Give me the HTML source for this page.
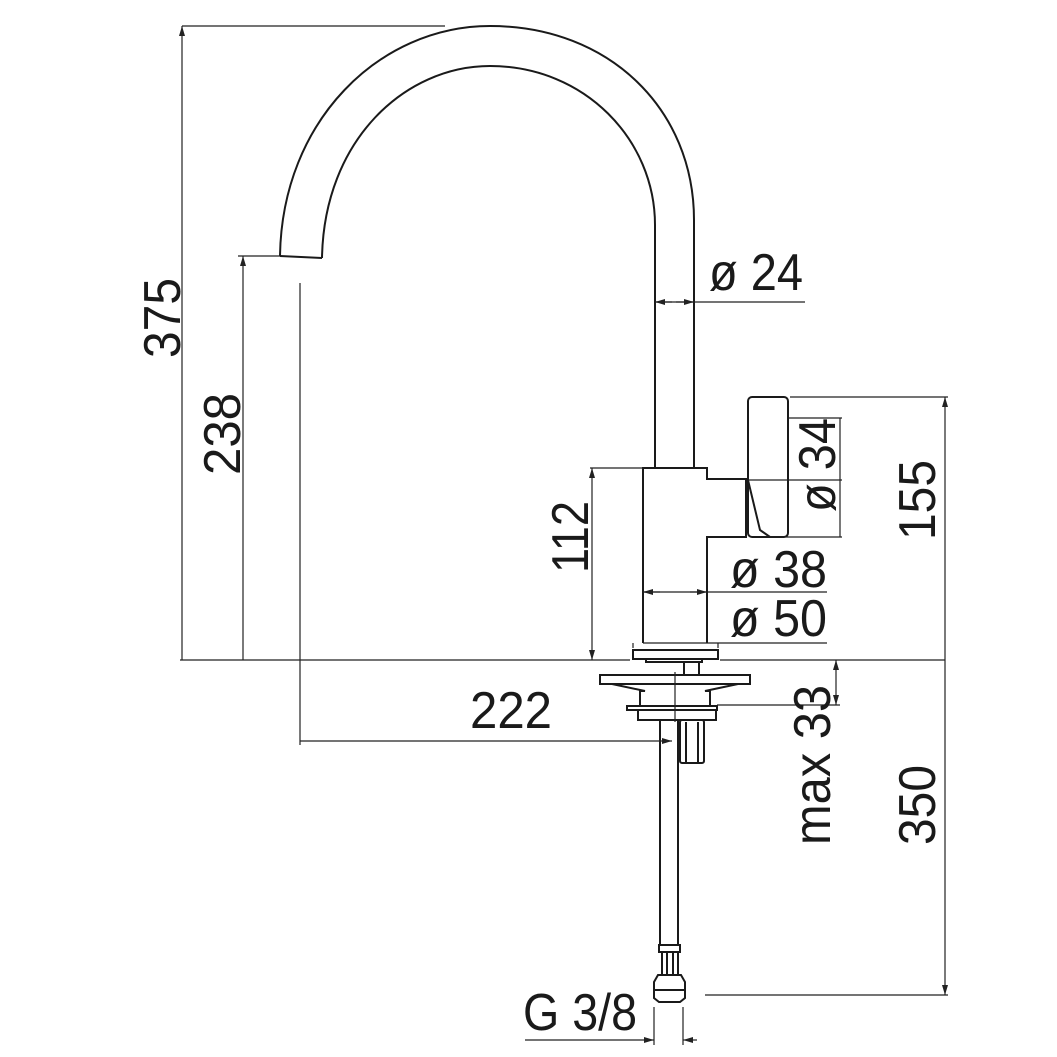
<!DOCTYPE html>
<html><head><meta charset="utf-8"><style>
html,body{margin:0;padding:0;background:#fff;}
svg{display:block;}
text{font-family:"Liberation Sans",sans-serif;fill:#1a1a1a;}
</style></head><body>
<svg width="1057" height="1057" viewBox="0 0 1057 1057" xmlns="http://www.w3.org/2000/svg">
<defs>
<marker id="a" viewBox="0 0 10 6" refX="10" refY="3" markerWidth="10" markerHeight="6" orient="auto-start-reverse" markerUnits="userSpaceOnUse"><path d="M0,0 L10,3 L0,6 z" fill="#222"/></marker>
</defs>
<g fill="none" stroke="#1a1a1a" stroke-width="2">
<path d="M280,256 C282,120 380,26 490,26 C610,26 694,110 694,220 L694,468"/>
<path d="M322,258 C324,140 405,66 490,66 C585,66 655,140 655,225 L655,468"/>
<path d="M280,256 L322,258"/>
<path d="M643,643 L643,468 L707,468 L707,479 L746,479 L746,537 L707,537 L707,643"/>
<rect x="748" y="397" width="40" height="140" rx="4"/>
<path d="M748,480 L760,530 L770,537"/>
<rect x="633" y="650" width="85" height="9"/>
<rect x="646" y="659" width="56" height="3"/>
<rect x="684" y="662" width="15" height="13"/>
<rect x="600" y="675" width="150" height="9"/>
<path d="M612,684 L645,691 L640,691 L640,706 M738,684 L705,691 L710,691 L710,706"/>
<rect x="627" y="706" width="90" height="4"/>
<rect x="638" y="710" width="78" height="10"/>
<rect x="680" y="720" width="24" height="43" rx="2"/>
<path d="M686,722 L686,762 M698,722 L698,762"/>
<path d="M660,720 L660,945 M678,720 L678,945"/>
<rect x="659" y="945" width="21" height="7"/>
<rect x="662" y="952" width="16" height="23"/>
<path d="M667,952 L667,975 M673,952 L673,975"/>
<path d="M658,975 L681,975 L685,982 L685,998 L680,1002 L659,1002 L654,998 L654,982 z"/>
<path d="M654,990 L685,990"/>
</g>
<g fill="none" stroke="#222" stroke-width="1.2">
<path d="M180,660 L630,660 M720,660 L945,660"/>
<path d="M182,26 L445,26"/>
<path d="M182,26 L182,660" marker-start="url(#a)"/>
<path d="M238,256 L280,256"/>
<path d="M243,256 L243,660" marker-start="url(#a)"/>
<path d="M300,283 L300,745"/>
<path d="M590,468 L643,468"/>
<path d="M592,468 L592,660" marker-start="url(#a)" marker-end="url(#a)"/>
<path d="M790,397 L948,397"/>
<path d="M945,397 L945,660" marker-start="url(#a)"/>
<path d="M705,995 L948,995"/>
<path d="M945,660 L945,995" marker-end="url(#a)"/>
<path d="M836,660 L836,705" marker-start="url(#a)" marker-end="url(#a)"/>
<path d="M717,705 L840,705"/>
<path d="M788,418 L842,418"/>
<path d="M770,537 L842,537"/>
<path d="M840,418 L840,537"/>
<path d="M748,480 L842,480"/>
<path d="M300,741 L672,741" marker-end="url(#a)"/>
<path d="M675,672 L675,722"/>
<path d="M655,302 L805,302"/>
<path d="M655,302 L672,302" marker-start="url(#a)"/>
<path d="M676,302 L694,302" marker-end="url(#a)"/>
<path d="M643,592 L827,592"/>
<path d="M643,592 L660,592" marker-start="url(#a)"/>
<path d="M690,592 L707,592" marker-end="url(#a)"/>
<path d="M633,643 L633,648 M718,643 L718,648"/>
<path d="M643,643 L827,643"/>
<path d="M654,1007 L654,1045 M683,1007 L683,1045"/>
<path d="M525,1040 L654,1040" marker-end="url(#a)"/>
<path d="M683,1040 L697,1040" marker-start="url(#a)"/>
</g>
<g font-size="52">
<text transform="translate(180,318) rotate(-90)" text-anchor="middle" textLength="80" lengthAdjust="spacingAndGlyphs">375</text>
<text transform="translate(240,434) rotate(-90)" text-anchor="middle" textLength="82" lengthAdjust="spacingAndGlyphs">238</text>
<text transform="translate(588,537) rotate(-90)" text-anchor="middle" textLength="72" lengthAdjust="spacingAndGlyphs">112</text>
<text transform="translate(935,500) rotate(-90)" text-anchor="middle" textLength="80" lengthAdjust="spacingAndGlyphs">155</text>
<text transform="translate(935,805) rotate(-90)" text-anchor="middle" textLength="80" lengthAdjust="spacingAndGlyphs">350</text>
<text transform="translate(830,765) rotate(-90)" text-anchor="middle" textLength="160" lengthAdjust="spacingAndGlyphs">max 33</text>
<text transform="translate(835,465) rotate(-90)" text-anchor="middle" textLength="94" lengthAdjust="spacingAndGlyphs">ø 34</text>
<text x="709" y="290" textLength="94" lengthAdjust="spacingAndGlyphs">ø 24</text>
<text x="730" y="587" textLength="97" lengthAdjust="spacingAndGlyphs">ø 38</text>
<text x="730" y="636" textLength="97" lengthAdjust="spacingAndGlyphs">ø 50</text>
<text x="470" y="728" textLength="82" lengthAdjust="spacingAndGlyphs">222</text>
<text x="523" y="1030" textLength="114" lengthAdjust="spacingAndGlyphs">G 3/8</text>
</g>
</svg>
</body></html>
